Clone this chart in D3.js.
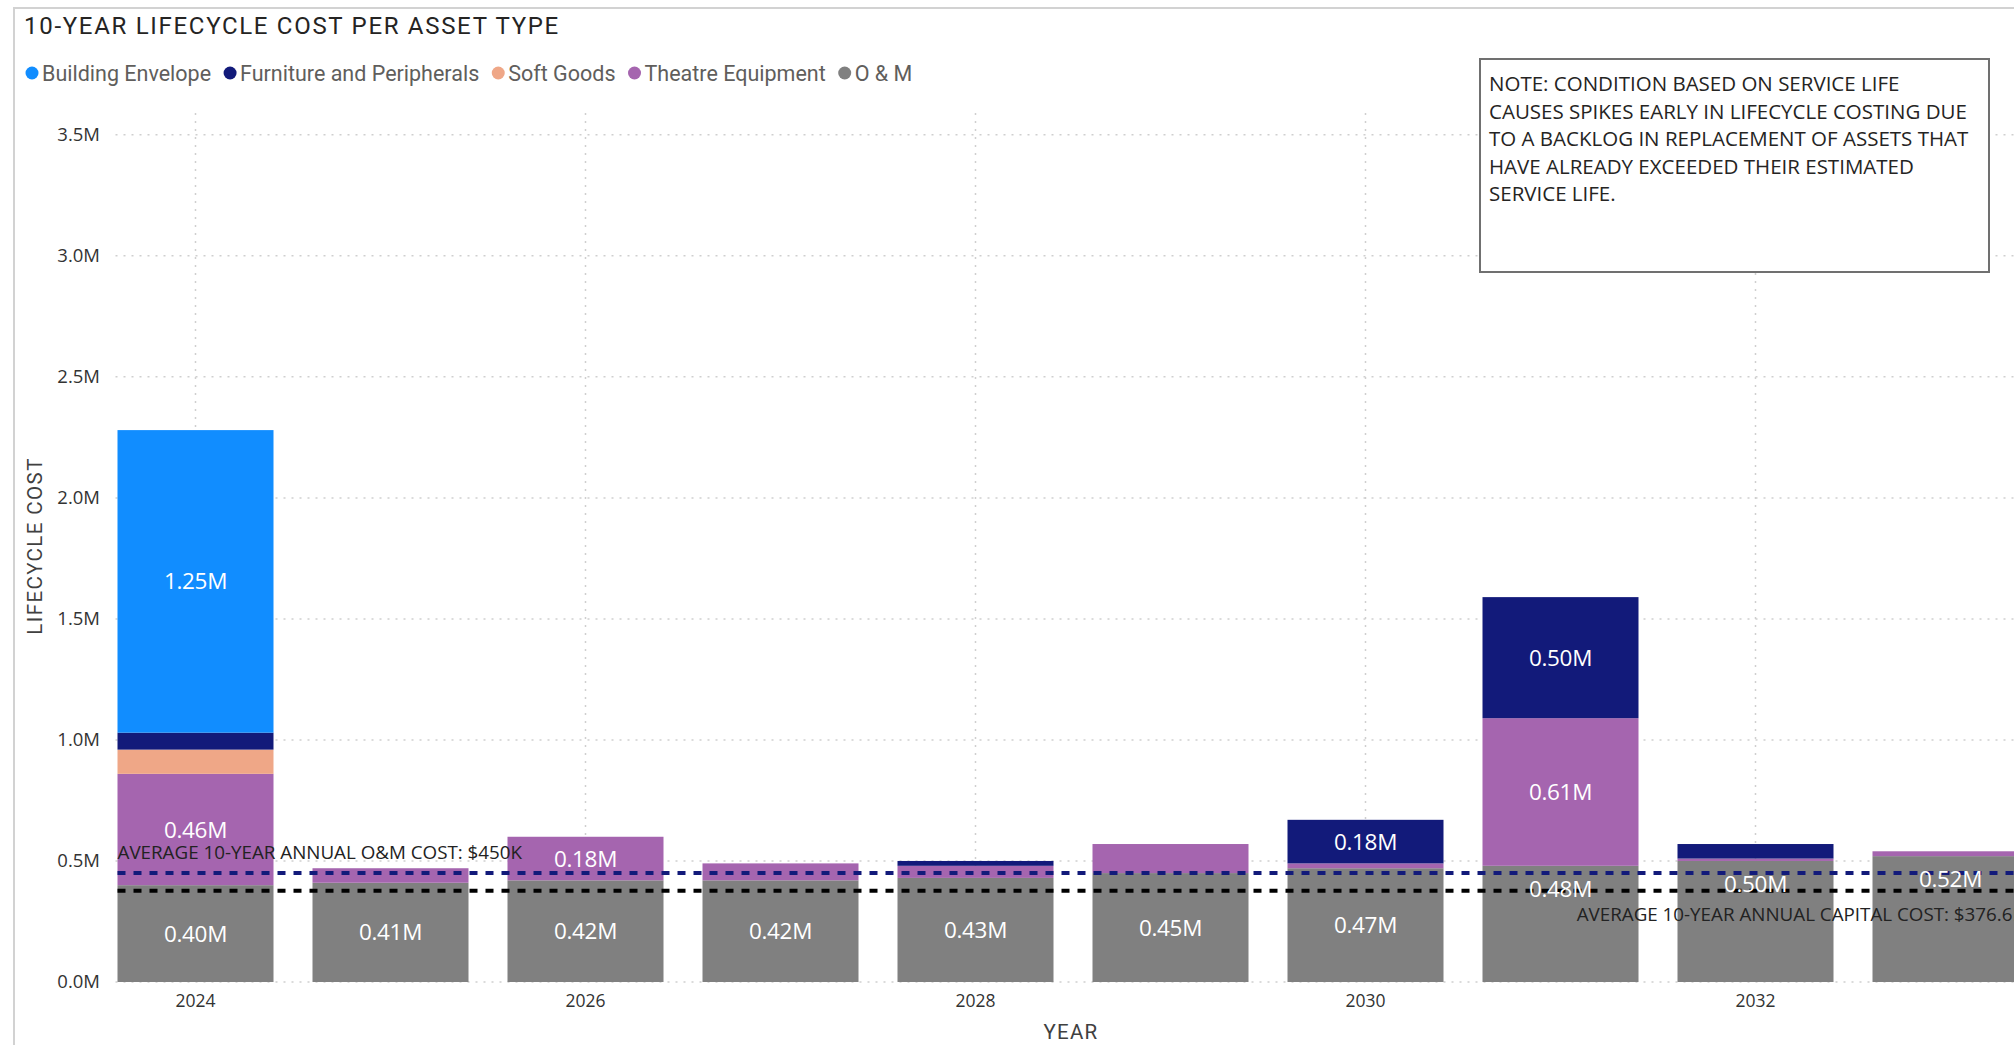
<!DOCTYPE html>
<html>
<head>
<meta charset="utf-8">
<script src="https://cdn.jsdelivr.net/npm/d3@7"></script>
<style>
  html, body { margin: 0; padding: 0; background: #ffffff; overflow: hidden; }
  svg { display: block; }
</style>
</head>
<body>
<svg id="chart" width="2014" height="1045"></svg>
<script>
// ---- Data (values in millions of dollars) ----
const years = [2024, 2025, 2026, 2027, 2028, 2029, 2030, 2031, 2032, 2033];
const seriesNames = ["Building Envelope", "Furniture and Peripherals", "Soft Goods", "Theatre Equipment", "O & M"];
const seriesColors = ["#118DFF", "#121A7A", "#EFA787", "#A565AF", "#808080"];

const buildingEnvelope     = [1.25, 0,    0,    0,    0,    0,    0,    0,    0,    0   ];
const furniturePeripherals = [0.07, 0,    0,    0,    0.02, 0,    0.18, 0.50, 0.06, 0   ];
const softGoods            = [0.10, 0,    0,    0,    0,    0,    0,    0,    0,    0   ];
const theatreEquipment     = [0.46, 0.06, 0.18, 0.07, 0.05, 0.12, 0.02, 0.61, 0.01, 0.02];
const operationsMaint      = [0.40, 0.41, 0.42, 0.42, 0.43, 0.45, 0.47, 0.48, 0.50, 0.52];

const yTickValues = [0, 0.5, 1.0, 1.5, 2.0, 2.5, 3.0, 3.5];
const xTickYears = [2024, 2026, 2028, 2030, 2032];

const avgOMCost = 0.450;        // average 10-year annual O&M cost
const avgCapitalCost = 0.3766;  // average 10-year annual capital cost
const omLabel = "AVERAGE 10-YEAR ANNUAL O&M COST: $450K";
const capitalLabel = "AVERAGE 10-YEAR ANNUAL CAPITAL COST: $376.6K";

const chartTitle = "10-YEAR LIFECYCLE COST PER ASSET TYPE";
const yAxisTitle = "LIFECYCLE COST";
const xAxisTitle = "YEAR";
const noteLines = [
  "NOTE: CONDITION BASED ON SERVICE LIFE",
  "CAUSES SPIKES EARLY IN LIFECYCLE COSTING DUE",
  "TO A BACKLOG IN REPLACEMENT OF ASSETS THAT",
  "HAVE ALREADY EXCEEDED THEIR ESTIMATED",
  "SERVICE LIFE."
];

// ---- Table for stacking ----
const seriesValues = {
  "Building Envelope": buildingEnvelope,
  "Furniture and Peripherals": furniturePeripherals,
  "Soft Goods": softGoods,
  "Theatre Equipment": theatreEquipment,
  "O & M": operationsMaint
};
const rows = years.map((yr, i) => {
  const r = { year: yr };
  seriesNames.forEach(n => { r[n] = seriesValues[n][i]; });
  return r;
});
const stackOrder = ["O & M", "Theatre Equipment", "Soft Goods", "Furniture and Peripherals", "Building Envelope"];
const layers = d3.stack().keys(stackOrder)(rows);
const colorOf = d3.scaleOrdinal().domain(seriesNames).range(seriesColors);

// ---- Layout ----
const svg = d3.select("#chart");
const W = 2014, H = 1045;
const DIN = "Roboto, 'DejaVu Sans', sans-serif";
const UI = "'Open Sans', 'Noto Sans', sans-serif";

const x = d3.scaleBand().domain(years).range([98, 2048]).paddingInner(0.2).paddingOuter(0.1);
const y = d3.scaleLinear().domain([0, 3.59]).range([982, 113]);
const plotLeft = x(years[0]) - 2;
const plotRight = x.range()[1];

// frame
svg.append("path")
  .attr("d", `M14,${H} L14,8 L${W},8`)
  .attr("fill", "none").attr("stroke", "#d2d2d2").attr("stroke-width", 2);

// title
svg.append("text")
  .attr("x", 24).attr("y", 34)
  .attr("font-family", DIN).attr("font-size", 24).attr("letter-spacing", 1.7)
  .attr("fill", "#252423").text(chartTitle);

// legend
const legend = svg.append("g").attr("class", "legend");
let lx = 32;
seriesNames.forEach((name, i) => {
  const g = legend.append("g");
  g.append("circle").attr("cx", lx).attr("cy", 73).attr("r", 6.5).attr("fill", seriesColors[i]);
  const t = g.append("text").attr("x", lx + 10).attr("y", 80.5)
    .attr("font-family", DIN).attr("font-size", 21.5)
    .attr("fill", "#605E5C").text(name);
  lx += 10 + t.node().getComputedTextLength() + 19;
});

// gridlines
const grid = svg.append("g").attr("class", "grid");
grid.selectAll("line.h").data(yTickValues).join("line").attr("class", "h")
  .attr("x1", plotLeft).attr("x2", W)
  .attr("y1", d => y(d)).attr("y2", d => y(d))
  .attr("stroke", "#cfcfcf").attr("stroke-width", 1.5).attr("stroke-dasharray", "2,6");
grid.selectAll("line.v").data(xTickYears).join("line").attr("class", "v")
  .attr("x1", d => x(d) + x.bandwidth() / 2).attr("x2", d => x(d) + x.bandwidth() / 2)
  .attr("y1", y.range()[1]).attr("y2", y(0))
  .attr("stroke", "#cfcfcf").attr("stroke-width", 1.5).attr("stroke-dasharray", "2,6");

// y axis labels
const yAxis = d3.axisLeft(y).tickValues(yTickValues).tickSize(0).tickPadding(0)
  .tickFormat(d => d3.format(".1f")(d) + "M");
svg.append("g").attr("transform", "translate(100,0)").call(yAxis)
  .call(g => g.select(".domain").remove())
  .call(g => g.selectAll("text").attr("font-family", UI).attr("font-size", 18.5).attr("fill", "#333333"));

// x axis labels
const xAxis = d3.axisBottom(x).tickValues(xTickYears).tickSize(0).tickPadding(0);
svg.append("g").attr("transform", "translate(0,995)").call(xAxis)
  .call(g => g.select(".domain").remove())
  .call(g => g.selectAll("text").attr("font-family", UI).attr("font-size", 17.5).attr("fill", "#333333"));

// axis titles
svg.append("text")
  .attr("transform", "translate(42,546) rotate(-90)")
  .attr("text-anchor", "middle")
  .attr("font-family", DIN).attr("font-size", 20.5).attr("letter-spacing", 1.4)
  .attr("fill", "#404040").text(yAxisTitle);
svg.append("text")
  .attr("x", 1071).attr("y", 1039).attr("text-anchor", "middle")
  .attr("font-family", DIN).attr("font-size", 20.5).attr("letter-spacing", 1.2)
  .attr("fill", "#404040").text(xAxisTitle);

// stacked bars
const bars = svg.append("g").attr("class", "bars");
layers.forEach(layer => {
  bars.append("g").attr("fill", colorOf(layer.key))
    .selectAll("rect").data(layer).join("rect")
    .attr("x", d => x(d.data.year))
    .attr("width", x.bandwidth())
    .attr("y", d => y(d[1]))
    .attr("height", d => Math.max(0, y(d[0]) - y(d[1])));
});

// reference lines
const refs = svg.append("g").attr("class", "refs");
refs.append("line")
  .attr("x1", plotLeft + 2).attr("x2", W).attr("y1", y(avgOMCost)).attr("y2", y(avgOMCost))
  .attr("stroke", "#121A7A").attr("stroke-width", 4).attr("stroke-dasharray", "8,8");
refs.append("line")
  .attr("x1", plotLeft + 2).attr("x2", W).attr("y1", y(avgCapitalCost)).attr("y2", y(avgCapitalCost))
  .attr("stroke", "#000000").attr("stroke-width", 4).attr("stroke-dasharray", "8,8");

const refText = svg.append("g").attr("class", "ref-labels");
refText.append("text")
  .attr("x", plotLeft + 2).attr("y", y(avgOMCost) - 14)
  .attr("font-family", UI).attr("font-size", 18.8)
  .attr("fill", "#222222").text(omLabel);
// the capital-cost label runs past the right edge of the visible plot
const capText = refText.append("text")
  .attr("x", plotRight - 24).attr("y", y(avgCapitalCost) + 30).attr("text-anchor", "end")
  .attr("font-family", UI).attr("font-size", 18.8)
  .attr("fill", "#222222").text(capitalLabel);
const capBox = capText.node().getBBox();

// data labels: centred in the segment, moved to the inside end when crowded by the reference label
const fmt = v => d3.format(".2f")(v) + "M";
const labelLayer = svg.append("g").attr("class", "data-labels");
layers.forEach(layer => {
  layer.forEach(d => {
    const v = d[1] - d[0];
    const top = y(d[1]), bottom = y(d[0]);
    if (bottom - top < 32) return;
    const bx = x(d.data.year);
    let cy = (top + bottom) / 2;
    const half = 11;
    const overlaps = bx < capBox.x + capBox.width && bx + x.bandwidth() > capBox.x &&
                     cy - half < capBox.y + capBox.height && cy + half > capBox.y;
    if (overlaps) cy = top + 23;
    labelLayer.append("text")
      .attr("x", bx + x.bandwidth() / 2).attr("y", cy + 8)
      .attr("text-anchor", "middle")
      .attr("font-family", UI).attr("font-size", 22.5).attr("letter-spacing", -0.3)
      .attr("fill", "#ffffff").text(fmt(v));
  });
});

// note box
const note = svg.append("g").attr("class", "note");
note.append("rect").attr("x", 1480).attr("y", 59).attr("width", 509).attr("height", 213)
  .attr("fill", "#ffffff").attr("stroke", "#707070").attr("stroke-width", 2);
note.selectAll("text").data(noteLines).join("text")
  .attr("x", 1489).attr("y", (d, i) => 91 + i * 27.6)
  .attr("font-family", UI).attr("font-size", 20.5)
  .attr("fill", "#252423").text(d => d);
</script>
</body>
</html>
